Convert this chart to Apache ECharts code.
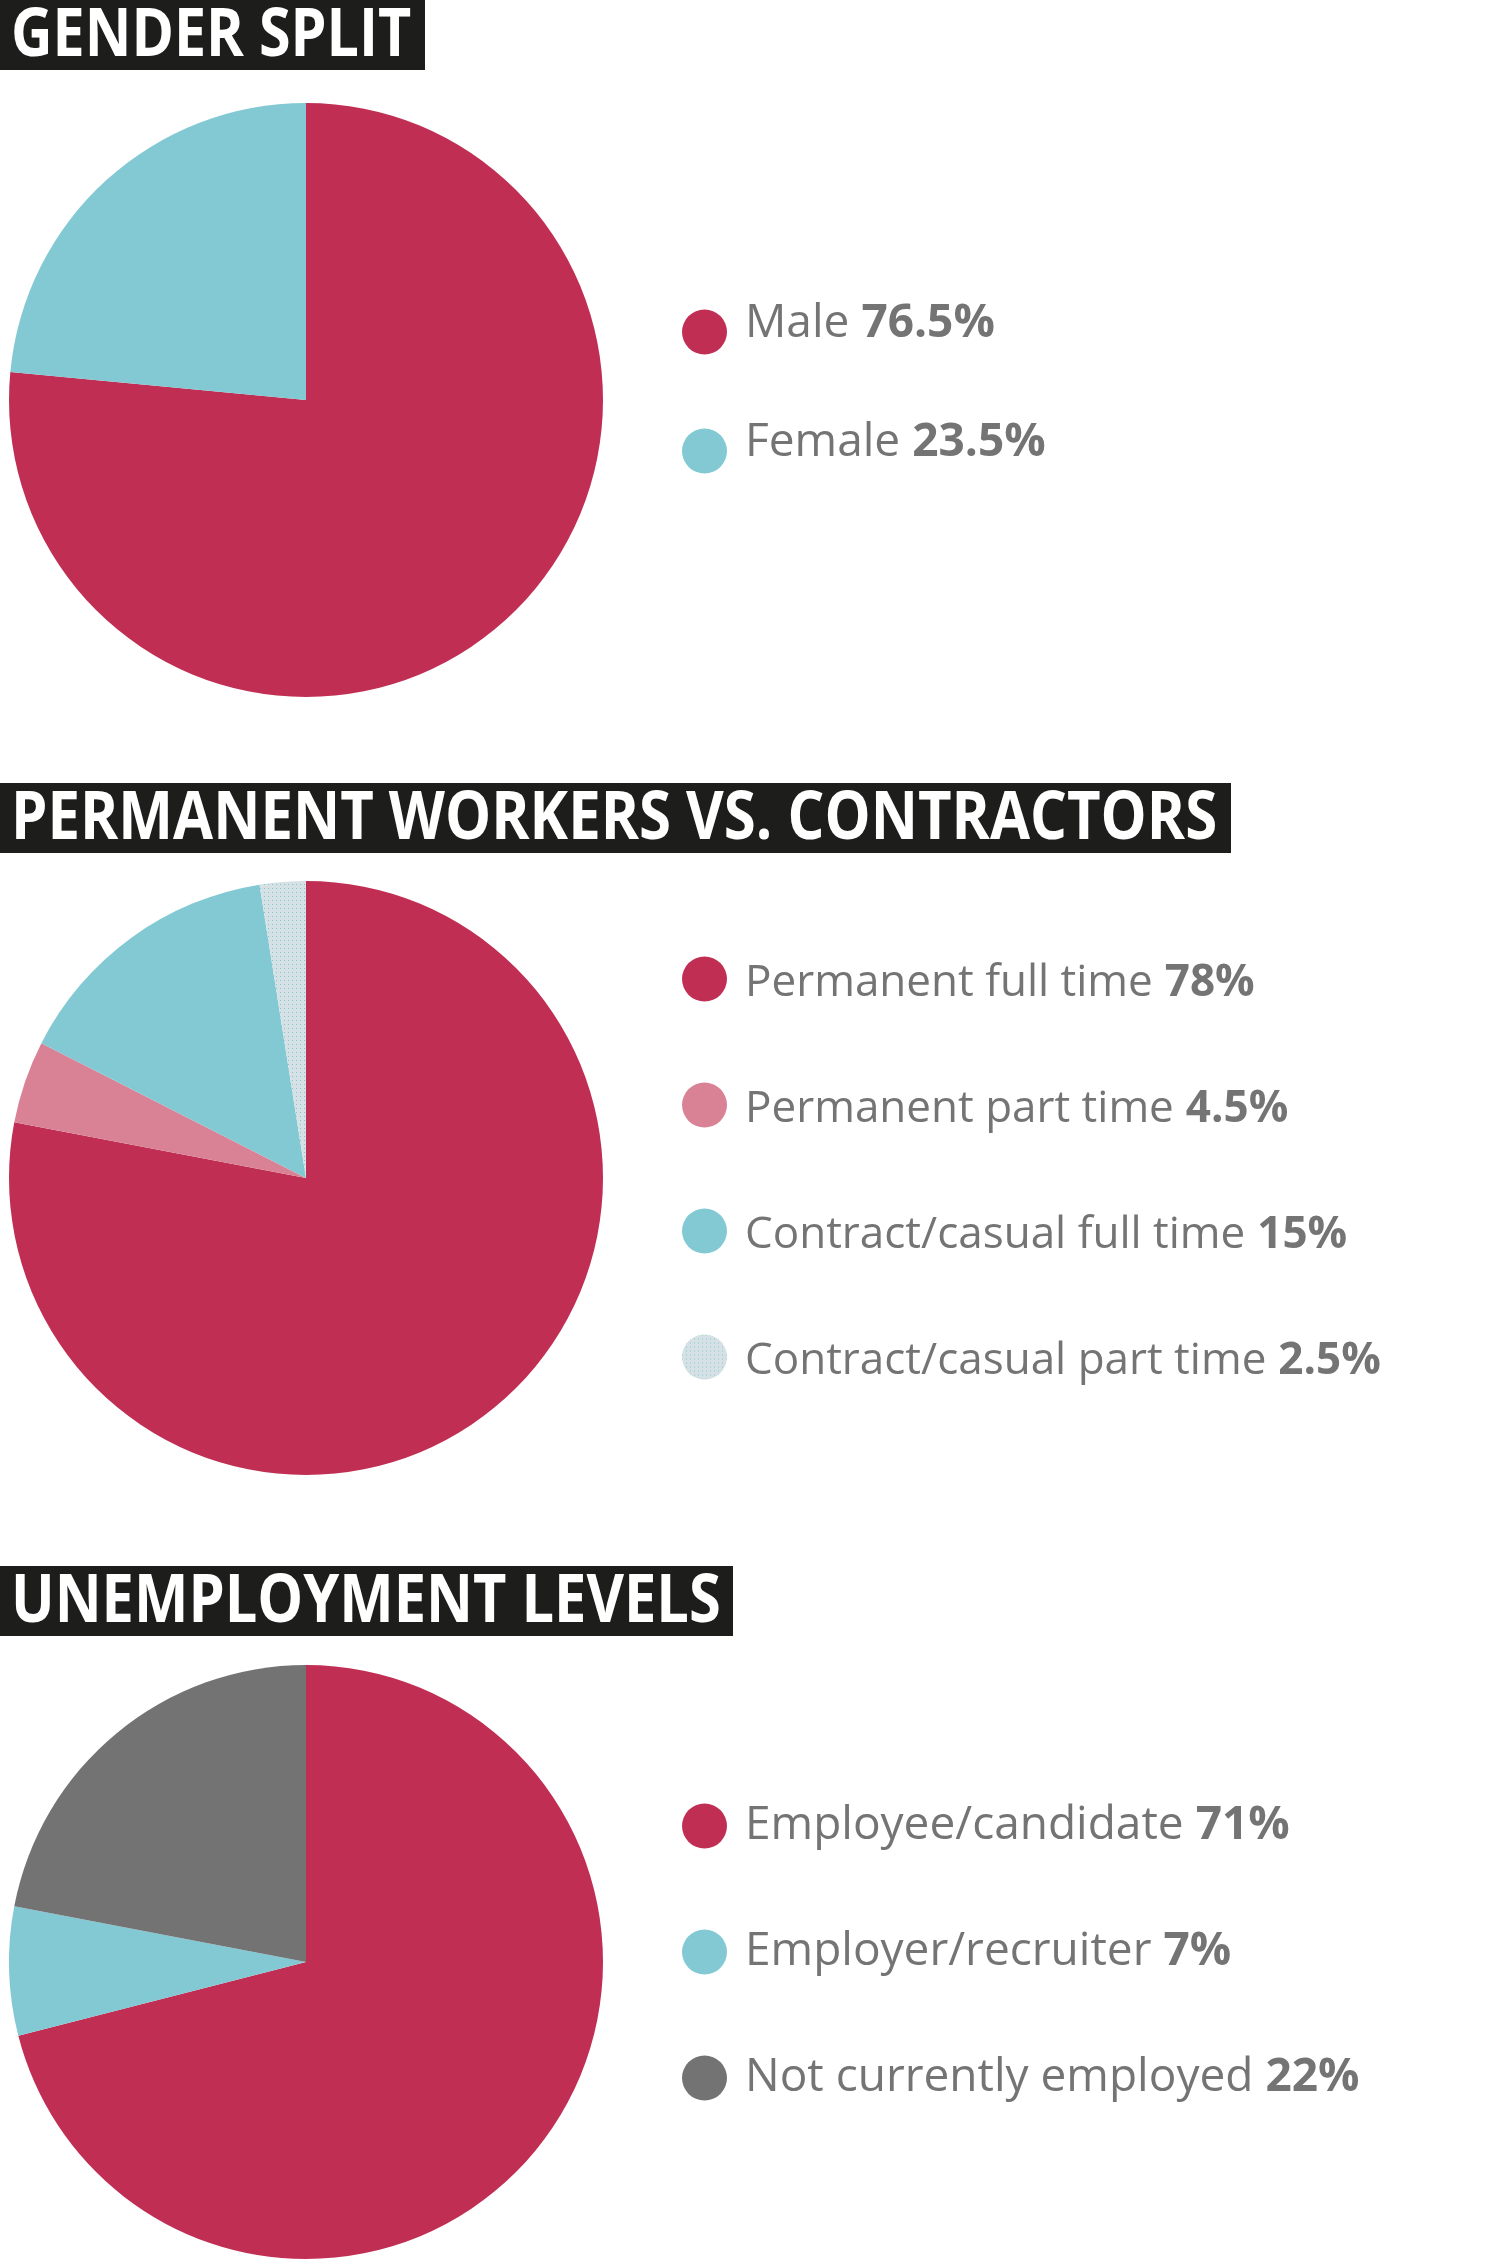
<!DOCTYPE html>
<html>
<head>
<meta charset="utf-8">
<title>Survey split</title>
<script src="https://cdn.jsdelivr.net/npm/echarts@6/dist/echarts.min.js"></script>
<style>
  html, body { margin: 0; padding: 0; background: #fff; }
  #main { width: 1509px; height: 2260px; }
</style>
</head>
<body>
<div id="main"></div>
<script>
// data
var genderNames = ['Male', 'Female'];
var genderValues = [76.5, 23.5];

var workerNames = ['Permanent full time', 'Permanent part time', 'Contract/casual full time', 'Contract/casual part time'];
var workerValues = [78, 4.5, 15, 2.5];

var jobNames = ['Employee/candidate', 'Employer/recruiter', 'Not currently employed'];
var jobValues = [71, 7, 22];

var titles = ['GENDER SPLIT', 'PERMANENT WORKERS VS. CONTRACTORS', 'UNEMPLOYMENT LEVELS'];

// colours
var RED = '#c02f53', CYAN = '#82c9d4', PINK = '#d98296', GREY = '#737373', PALE = '#d5e1e4';
var dots = { symbol: 'rect', symbolSize: 1, dashArrayX: [1, 3], dashArrayY: [1, 3], color: '#7fc6d1', rotation: 0 };

function items(names, values, colors, decals) {
    return names.map(function (n, i) {
        var it = { name: n, value: values[i], itemStyle: { color: colors[i] } };
        if (decals && decals[i]) it.itemStyle.decal = decals[i];
        return it;
    });
}

function lookup(names, values) {
    var m = {};
    names.forEach(function (n, i) { m[n] = values[i]; });
    return m;
}
var allValues = Object.assign({}, lookup(genderNames, genderValues), lookup(workerNames, workerValues), lookup(jobNames, jobValues));

function pie(center, data) {
    return {
        type: 'pie',
        center: center,
        radius: 297,
        startAngle: 90,
        clockwise: true,
        label: { show: false },
        labelLine: { show: false },
        emphasis: { disabled: true },
        silent: true,
        data: data
    };
}

// pad = [top, bottom] padding of the text, nudges it up/down against the dot
function legend(names, top, gap, pad, fs) {
    return {
        data: names,
        orient: 'vertical',
        left: 682,
        top: top,
        padding: 0,
        icon: 'circle',
        itemWidth: 45,
        itemHeight: 45,
        itemGap: gap,
        selectedMode: false,
        formatter: function (name) {
            return '{n|' + name + '}{v|' + allValues[name] + '%}';
        },
        textStyle: {
            rich: {
                n: { fontFamily: 'Open Sans', fontSize: fs, lineHeight: 44, color: '#747474', padding: [pad[0], 0, pad[1], 13] },
                v: { fontFamily: 'Open Sans', fontSize: fs, lineHeight: 44, fontWeight: 'bold', color: '#747474', padding: [pad[0], 0, pad[1], 12] }
            }
        }
    };
}

// title blocks: black box with white bold caps
function titleBlock(text, top, width, sx) {
    return {
        type: 'group',
        left: 0,
        top: top,
        children: [
            { type: 'rect', shape: { x: 0, y: 0, width: width, height: 70 }, style: { fill: '#1d1d1b' } },
            {
                type: 'text', x: 11, y: 37, scaleX: sx,
                style: { text: text, fill: '#fff', font: 'bold 66px "Open Sans"', verticalAlign: 'middle' }
            }
        ]
    };
}

var chart = echarts.init(document.getElementById('main'));
chart.setOption({
    backgroundColor: '#fff',
    animation: false,
    graphic: [
        titleBlock(titles[0], 0, 425, 0.87),
        titleBlock(titles[1], 783, 1231, 0.88),
        titleBlock(titles[2], 1566, 733, 0.875)
    ],
    legend: [
        legend(genderNames, 301, 57, [0, 16], 46),
        legend(workerNames, 953, 74, [8, 0], 44),
        legend(jobNames, 1803, 80, [0, 0], 46)
    ],
    series: [
        pie([306, 400], items(genderNames, genderValues, [RED, CYAN])),
        pie([306, 1178], items(workerNames, workerValues, [RED, PINK, CYAN, PALE], [null, null, null, dots])),
        pie([306, 1962], items(jobNames, jobValues, [RED, CYAN, GREY]))
    ]
});
</script>
</body>
</html>
